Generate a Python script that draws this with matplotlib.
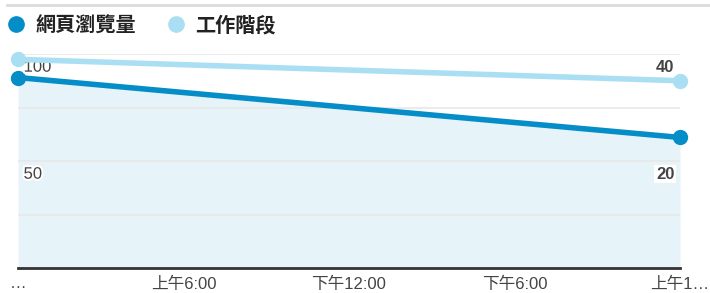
import matplotlib
matplotlib.use("Agg")
import matplotlib.pyplot as plt
import matplotlib.patheffects as pe
from matplotlib.lines import Line2D

plt.rcParams['font.family'] = ['Liberation Sans', 'Noto Sans CJK TC']

# data
hours = [0, 24]
pageviews = [89, 61]
sessions = [39, 35]
tick_pos = [0, 6, 12, 18, 24]
tick_labels = ['…', '上午6:00', '下午12:00', '下午6:00', '上午1…']
series_names = ['網頁瀏覽量', '工作階段']

dark = '#058dc7'
light = '#aadff3'
fill = '#e6f3f9'

W, H = 710, 293
fig = plt.figure(figsize=(W / 100, H / 100), dpi=100)
ax = fig.add_axes([18 / W, (H - 268) / H, (680 - 18) / W, (268 - 54) / H])
ax2 = ax.twinx()

ax.set_xlim(0, 24)
ax.set_ylim(0, 100)
ax2.set_ylim(0, 40)

# grid
for v in [25, 50, 75, 100]:
    ax.axhline(v, color='#e8e8e8', lw=1.2, zorder=1)

ax.fill_between(hours, pageviews, 0, color=fill, zorder=0, lw=0)
ax.plot(hours, pageviews, color=dark, lw=4, marker='o', ms=10, clip_on=False, zorder=5)
ax2.plot(hours, sessions, color=light, lw=4, marker='o', ms=10, clip_on=False, zorder=5)

# axis labels inside plot
halo = [pe.withStroke(linewidth=3, foreground='white')]
for v in [100, 50]:
    ax.annotate(str(v), (0, v), xytext=(4, -9.5), textcoords='offset points',
                ha='left', va='center', fontsize=12, color='#444444', path_effects=halo, zorder=6)
for v in [40, 20]:
    ax2.annotate(str(v), (24, v), xytext=(-4, -9.5), textcoords='offset points',
                 ha='right', va='center', fontsize=12, color='#444444', fontweight='bold',
                 bbox=dict(boxstyle='square,pad=0.1', fc='white', ec='none'), zorder=6)

for a in (ax, ax2):
    for s in a.spines.values():
        s.set_visible(False)
    a.set_yticks([])
ax.spines['bottom'].set_visible(True)
ax.spines['bottom'].set_color('#333333')
ax.spines['bottom'].set_linewidth(2)
ax.set_xticks(tick_pos)
ax.set_xticklabels(tick_labels, fontsize=12, color='#444444')
ax.tick_params(axis='x', length=0, pad=6)

# top border line
fig.add_artist(Line2D([7 / W, 1], [1 - 5 / H, 1 - 5 / H], color='#dcdcdc', lw=2))

handles = [Line2D([], [], color=dark, marker='o', ls='none', ms=11),
           Line2D([], [], color=light, marker='o', ls='none', ms=11)]
fig.legend(handles, series_names, loc='center left', bbox_to_anchor=(10 / W, 1 - 25 / H),
           ncol=2, frameon=False, handlelength=0.6, handletextpad=0.65, columnspacing=1.7,
           prop={'family': ['Noto Sans CJK TC'], 'size': 14.5, 'weight': 'bold'},
           labelcolor='#222222', borderaxespad=0, borderpad=0)

fig.savefig('out.png', dpi=100)
